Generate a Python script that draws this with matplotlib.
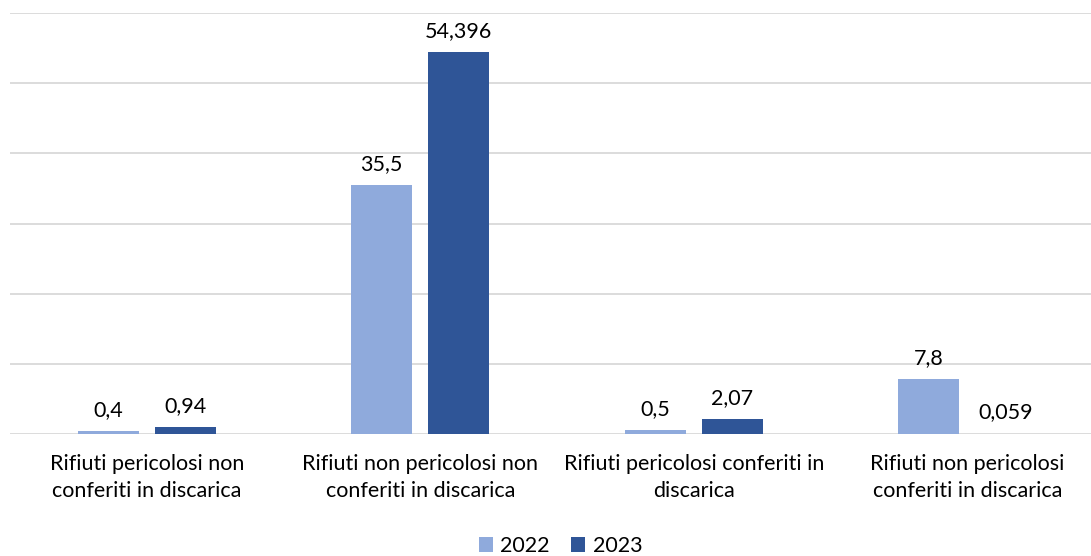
import numpy as np
import matplotlib.pyplot as plt

categories = ["Rifiuti pericolosi non\nconferiti in discarica",
              "Rifiuti non pericolosi non\nconferiti in discarica",
              "Rifiuti pericolosi conferiti in\ndiscarica",
              "Rifiuti non pericolosi\nconferiti in discarica"]
v2022 = [0.4, 35.5, 0.5, 7.8]
v2023 = [0.94, 54.396, 2.07, 0.059]
lab2022 = ["0,4", "35,5", "0,5", "7,8"]
lab2023 = ["0,94", "54,396", "2,07", "0,059"]

plt.rcParams['font.family'] = ['Lato', 'DejaVu Sans']

fig = plt.figure(figsize=(10.91, 5.56), dpi=100)
# plot area runs slightly past the right edge, like the cropped original
ax = fig.add_axes([10 / 1091, 1 - 434 / 556, 1094 / 1091, 421 / 556])

x = np.arange(len(categories))
w = 0.223
off = 0.141
b1 = ax.bar(x - off, v2022, w, color='#8FAADC', label='2022', zorder=3)
b2 = ax.bar(x + off, v2023, w, color='#2F5597', label='2023', zorder=3)

for bars, labs in ((b1, lab2022), (b2, lab2023)):
    for r, t in zip(bars, labs):
        ax.annotate(t, (r.get_x() + r.get_width() / 2, r.get_height()),
                    xytext=(0, 8), textcoords='offset points',
                    ha='center', va='bottom', fontsize=15.5, color='#000000')

ax.set_ylim(0, 60)
ax.set_xlim(-0.5, len(categories) - 0.5)
ax.set_yticks(np.arange(0, 61, 10))
ax.yaxis.grid(True, color='#D9D9D9', linewidth=1.3, zorder=0)
ax.tick_params(axis='y', left=False, labelleft=False)
ax.tick_params(axis='x', bottom=False, pad=11)
ax.set_xticks(x)
ax.set_xticklabels(categories, fontsize=15.5, linespacing=1.45)
for s in ax.spines.values():
    s.set_visible(False)

fig.legend(loc='lower center', bbox_to_anchor=(0.514, -0.035), ncol=2, frameon=False,
           fontsize=15.5, handlelength=0.65, handleheight=0.65, handletextpad=0.35,
           columnspacing=1.0)

fig.savefig('out.png', dpi=100)
